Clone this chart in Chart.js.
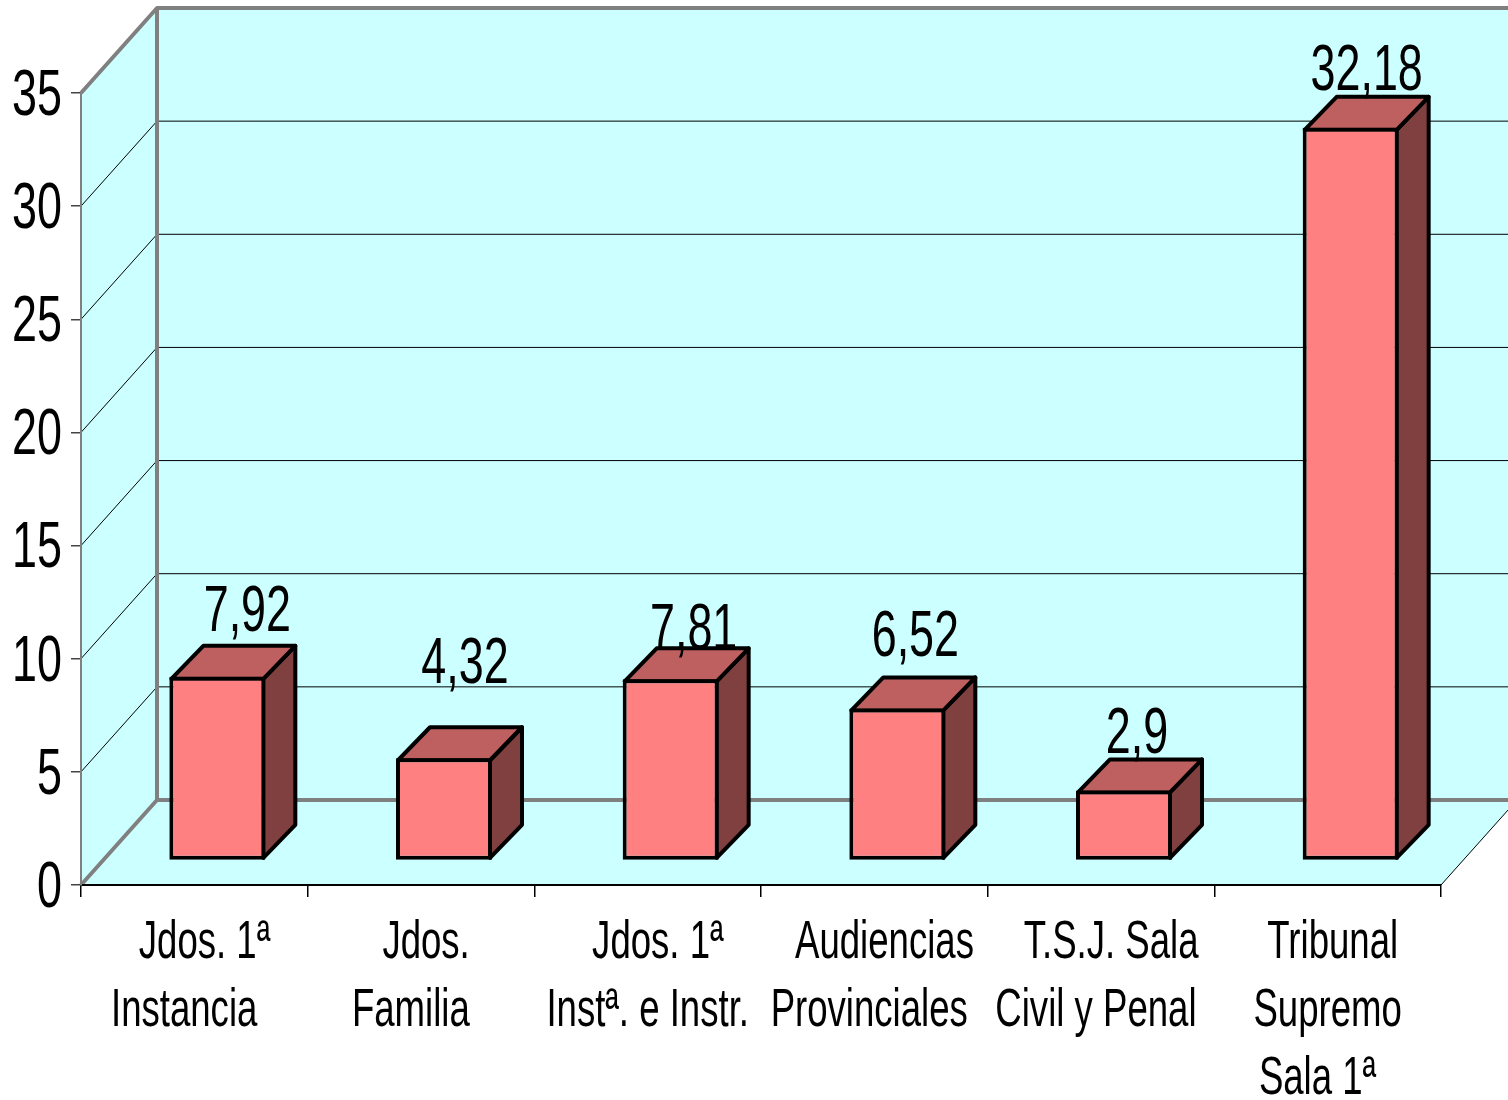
<!DOCTYPE html>
<html>
<head>
<meta charset="utf-8">
<title>Chart</title>
<script src="https://cdn.jsdelivr.net/npm/chart.js@4"></script>
<style>
    html, body { margin: 0; padding: 0; background: #fff; }
    canvas { display: block; }
</style>
</head>
<body>
<canvas id="barChart" width="1508" height="1100"></canvas>
<script>
// Chart data
const categories = [
    ['  Jdos. 1ª', 'Instancia  '],
    [' Jdos.', 'Familia  '],
    ['  Jdos. 1ª', 'Instª. e Instr.'],
    ['  Audiencias', 'Provinciales '],
    ['  T.S.J. Sala', 'Civil y Penal '],
    [' Tribunal', 'Supremo', 'Sala 1ª  ']
];
const values = [7.92, 4.32, 7.81, 6.52, 2.9, 32.18];
const yTicks = [0, 5, 10, 15, 20, 25, 30, 35];

// Hand placed value labels: shift from the bar top, as in the original
const labelShiftX = [30, 21, 23, 18, 13, 16];
const labelLift = [46, 75, 30, 52, 37, 38];

const fontFamily = '"Liberation Sans", Arial, sans-serif';
const valueFontSize = 65;
const categoryFontSize = 53;
const textSqueeze = 0.69; // original font is a narrow one, stretched

// 3D look
const wallDepth = { x: 76, y: -85 };
const barShift = { x: 23, y: -29 };
const barDepth = { x: 32, y: -33 };

// Draw a scale's own label items squeezed sideways
function squeezeLabels(nudgeY) {
    return function(chartArea) {
        const ctx = this.ctx;
        this.getLabelItems(chartArea).forEach(item => {
            const lines = Array.isArray(item.label) ? item.label : [item.label];
            ctx.save();
            ctx.translate(item.options.translation[0], item.options.translation[1] + nudgeY);
            ctx.scale(textSqueeze, 1);
            ctx.font = item.font.string;
            ctx.fillStyle = item.options.color;
            ctx.textAlign = item.options.textAlign;
            ctx.textBaseline = item.options.textBaseline;
            lines.forEach((line, i) => {
                ctx.fillText(line, 0, item.textOffset + i * item.font.lineHeight);
            });
            ctx.restore();
        });
    };
}

// Back wall, side wall and floor
const wallsPlugin = {
    id: 'walls',
    beforeDraw(chart) {
        const { ctx, chartArea: a, scales: { y } } = chart;
        const dx = wallDepth.x, dy = wallDepth.y;
        const farRight = a.right + dx;

        ctx.save();
        ctx.fillStyle = '#ccffff';
        ctx.beginPath();
        ctx.moveTo(a.left, a.bottom);
        ctx.lineTo(a.left, a.top);
        ctx.lineTo(a.left + dx, a.top + dy);
        ctx.lineTo(farRight, a.top + dy);
        ctx.lineTo(farRight, a.bottom + dy);
        ctx.lineTo(a.right, a.bottom);
        ctx.closePath();
        ctx.fill();

        // Grid lines on both walls
        ctx.strokeStyle = '#000';
        ctx.lineWidth = 1;
        yTicks.slice(1, -1).forEach(v => {
            const py = y.getPixelForValue(v);
            ctx.beginPath();
            ctx.moveTo(a.left, py);
            ctx.lineTo(a.left + dx, py + dy);
            ctx.lineTo(farRight, py + dy);
            ctx.stroke();
        });

        // Floor front right edge
        ctx.beginPath();
        ctx.moveTo(a.right, a.bottom);
        ctx.lineTo(farRight, a.bottom + dy);
        ctx.stroke();

        // Gray frame
        ctx.strokeStyle = '#808080';
        ctx.lineWidth = 4;
        ctx.lineJoin = 'round';
        ctx.beginPath();
        ctx.moveTo(a.left, a.top);
        ctx.lineTo(a.left + dx, a.top + dy);
        ctx.lineTo(farRight, a.top + dy);
        ctx.moveTo(a.left + dx, a.top + dy);
        ctx.lineTo(a.left + dx, a.bottom + dy);
        ctx.moveTo(a.left, a.bottom);
        ctx.lineTo(a.left + dx, a.bottom + dy);
        ctx.lineTo(farRight, a.bottom + dy);
        ctx.stroke();
        ctx.restore();
    }
};

// Top and side of each bar, then shift the bar itself off the front edge
const bars3dPlugin = {
    id: 'bars3d',
    beforeDatasetDraw(chart, args) {
        const { ctx } = chart;
        const dx = barDepth.x, dy = barDepth.y;

        ctx.save();
        ctx.translate(barShift.x, barShift.y);
        ctx.strokeStyle = '#000';
        ctx.lineWidth = 4;
        ctx.lineJoin = 'round';
        args.meta.data.forEach(bar => {
            const l = bar.x - bar.width / 2 + 2;
            const r = bar.x + bar.width / 2 - 2;
            const t = bar.y + 2;
            const b = bar.base - 2;

            ctx.fillStyle = '#804040';
            ctx.beginPath();
            ctx.moveTo(r, t);
            ctx.lineTo(r + dx, t + dy);
            ctx.lineTo(r + dx, b + dy);
            ctx.lineTo(r, b);
            ctx.closePath();
            ctx.fill();
            ctx.stroke();

            ctx.fillStyle = '#bf6060';
            ctx.beginPath();
            ctx.moveTo(l, t);
            ctx.lineTo(l + dx, t + dy);
            ctx.lineTo(r + dx, t + dy);
            ctx.lineTo(r, t);
            ctx.closePath();
            ctx.fill();
            ctx.stroke();
        });
        ctx.restore();

        ctx.save();
        ctx.translate(barShift.x, barShift.y);
    },
    afterDatasetDraw(chart) {
        chart.ctx.restore();
    },
    afterDatasetsDraw(chart) {
        const { ctx } = chart;
        const meta = chart.getDatasetMeta(0);
        meta.data.forEach((bar, i) => {
            const text = String(values[i]).replace('.', ',');
            ctx.save();
            ctx.translate(bar.x + barShift.x + labelShiftX[i], bar.y + barShift.y - labelLift[i]);
            ctx.scale(textSqueeze, 1);
            ctx.font = valueFontSize + 'px ' + fontFamily;
            ctx.fillStyle = '#000';
            ctx.textAlign = 'center';
            ctx.textBaseline = 'alphabetic';
            ctx.fillText(text, 0, 0);
            ctx.restore();
        });
    }
};

const barChart = new Chart(document.getElementById('barChart').getContext('2d'), {
    type: 'bar',
    data: {
        labels: categories,
        datasets: [{
            data: values,
            base: -0.17,
            backgroundColor: '#ff8080',
            borderColor: '#000',
            borderWidth: 4,
            borderSkipped: false,
            barPercentage: 0.4235,
            categoryPercentage: 1,
            clip: false
        }]
    },
    options: {
        responsive: false,
        animation: false,
        layout: { padding: { top: 93, right: 67, left: 0, bottom: 0 } },
        plugins: {
            legend: { display: false },
            title: { display: false },
            tooltip: { enabled: false }
        },
        scales: {
            x: {
                afterFit: scale => {
                    scale.height = 215;
                    scale.drawLabels = squeezeLabels(0);
                },
                border: { color: '#000', width: 2 },
                grid: { drawOnChartArea: false, color: '#000', lineWidth: 1.5, tickLength: 12 },
                ticks: {
                    color: '#000',
                    padding: 12,
                    maxRotation: 0,
                    autoSkip: false,
                    font: { family: fontFamily, size: categoryFontSize, lineHeight: '68px' }
                }
            },
            y: {
                min: 0,
                max: 35,
                afterFit: scale => {
                    scale.width = 81;
                    scale.drawLabels = squeezeLabels(4);
                },
                afterBuildTicks: scale => { scale.ticks = yTicks.map(v => ({ value: v })); },
                border: { color: '#808080', width: 2 },
                grid: { drawOnChartArea: false, color: '#444', lineWidth: 1.5, tickLength: 10 },
                ticks: {
                    color: '#000',
                    padding: 9,
                    font: { family: fontFamily, size: valueFontSize }
                }
            }
        }
    },
    plugins: [wallsPlugin, bars3dPlugin]
});
</script>
</body>
</html>
